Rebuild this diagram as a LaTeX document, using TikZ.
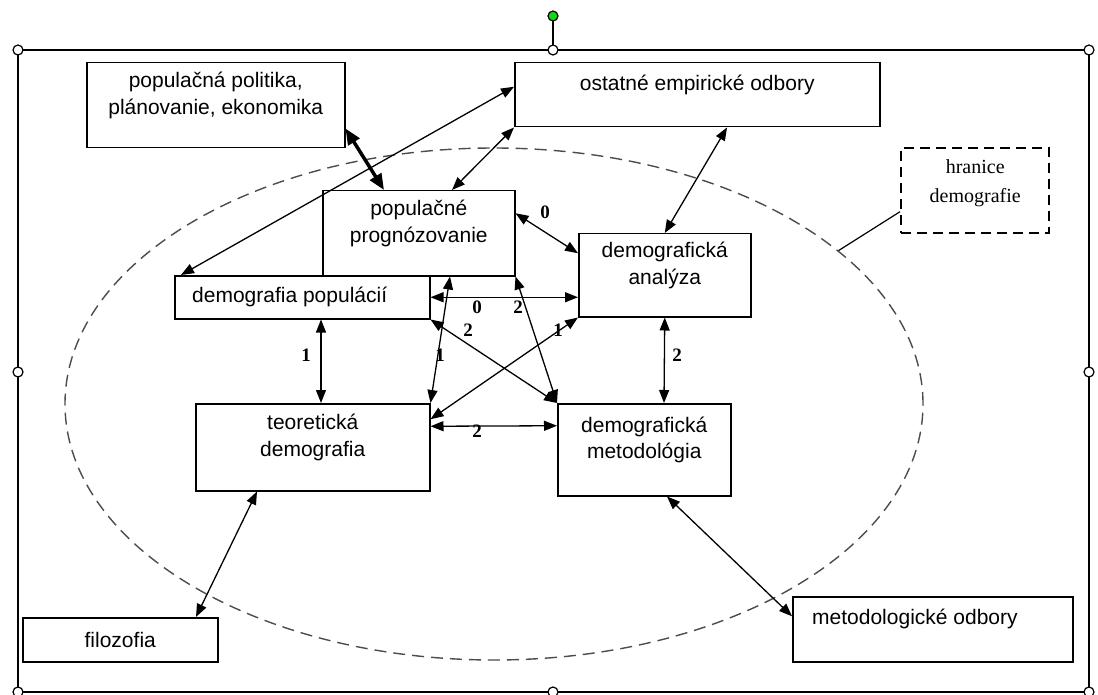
\documentclass[tikz,border=0pt]{standalone}
\usepackage{fontspec}
\setmainfont{Liberation Sans}
\newfontfamily\timesfont{Liberation Serif}
\usetikzlibrary{arrows.meta,shapes.geometric}
\definecolor{handlegreen}{RGB}{20,215,20}
\tikzstyle{box}=[draw, line width=1.5pt, anchor=north west, inner sep=0pt]
\tikzstyle{txt}=[inner sep=0pt, align=center, font=\fontsize{21}{26.5}\selectfont]
\tikzstyle{up}=[yshift=10pt]
\tikzstyle{link}=[line width=1.3pt, {Triangle[length=13pt,width=10pt]}-{Triangle[length=13pt,width=10pt]}]
\tikzstyle{num}=[inner sep=0pt, font=\fontsize{19}{19}\timesfont\bfseries]
\tikzstyle{handle}=[draw, fill=white, line width=1.2pt]

\begin{document}
\begin{tikzpicture}[x=1pt, y=-1pt]
\useasboundingbox (0,0) rectangle (1098,695);
% Frame with handles
    \draw[line width=1.3pt] (18,50) rectangle (1089,692);
    \draw[line width=1.2pt] (553,21) -- (553,45);
    \draw[handle, fill=handlegreen] (553,16) circle(5);
    \draw[handle] (18,50) circle(5);
    \draw[handle] (553,50) circle(5);
    \draw[handle] (1089,50) circle(5);
    \draw[handle] (18,372) circle(5);
    \draw[handle] (1089,372) circle(5);
    \draw[handle] (18,692) circle(5);
    \draw[handle] (553,692) circle(5);
    \draw[handle] (1089,692) circle(5);
% Boundary of demography
    \node[draw=black!70, ellipse, dashed, dash pattern=on 12pt off 7pt, line width=1.4pt,
          minimum width=858pt, minimum height=512pt, inner sep=0pt] (obor) at (494,404) {};
    \node[box, dash pattern=on 10pt off 6pt, line width=2.4pt, minimum width=148pt, minimum height=85pt,
          label={[txt, yshift=7pt, font=\fontsize{20}{29}\timesfont]center:{hranice\\demografie}}] (hranice) at (900,147) {};
    \draw[line width=1.2pt] ([yshift=-21pt]hranice.west) -- (obor.24);
% Boxes
    \node[box, minimum width=258pt, minimum height=85pt,
          label={[txt, up]center:{populačná politika,\\plánovanie, ekonomika}}] (politika) at (86,62) {};
    \node[box, minimum width=365pt, minimum height=64pt,
          label={[txt, up]center:ostatné empirické odbory}] (ostatne) at (514,62) {};
    \node[box, minimum width=192pt, minimum height=85pt,
          label={[txt, up]center:{populačné\\prognózovanie}}] (prognoza) at (322,190) {};
    \node[box, minimum width=255pt, minimum height=43pt,
          label={[txt, anchor=west, xshift=18pt]west:demografia populácií}] (dempop) at (174,275) {};
    \node[box, minimum width=172pt, minimum height=83pt,
          label={[txt, up]center:{demografická\\analýza}}] (analyza) at (578,233) {};
    \node[box, minimum width=234pt, minimum height=87pt,
          label={[txt, up]center:{teoretická\\demografia}}] (teoria) at (195,403) {};
    \node[box, minimum width=173pt, minimum height=92pt,
          label={[txt, up]center:{demografická\\metodológia}}] (metodologia) at (557,403) {};
    \node[box, minimum width=195pt, minimum height=44pt,
          label={[txt]center:filozofia}] (filozofia) at (22,617) {};
    \node[box, minimum width=280pt, minimum height=65pt,
          label={[txt, up, anchor=west, xshift=20pt]west:metodologické odbory}] (metodiky) at (792,596) {};
% Links
    \draw[link] ([yshift=8pt]ostatne.west) -- ([xshift=7pt]dempop.north west);
    \draw[link, line width=3.5pt, {Triangle[length=16pt,width=13pt]}-{Triangle[length=16pt,width=13pt]}]
        ([yshift=20pt]politika.south east) -- ([xshift=62pt]prognoza.north west);
    \draw[link] (ostatne.south west) -- ([xshift=130pt]prognoza.north west);
    \draw[link] ([xshift=213pt]ostatne.south west) -- (analyza.north);
    \draw[link] ([yshift=20pt]prognoza.east) -- ([yshift=22pt]analyza.west);
    \draw[link] (dempop.east) -- (dempop.east -| analyza.west);
    \draw[link] (prognoza.south east) -- (metodologia.north west);
    \draw[link] (dempop.south east) -- (metodologia.north west);
    \draw[link] ([xshift=128pt]prognoza.south west) -- (teoria.north east);
    \draw[link] (analyza.south west) -- ([yshift=28pt]teoria.east);
    \draw[link] ([yshift=21pt]teoria.east) -- ([yshift=24pt]metodologia.west);
    \draw[link] ([xshift=147pt]dempop.south west) -- ([xshift=126pt]teoria.north west);
    \draw[link] (analyza.south) -- ([xshift=107pt]metodologia.north west);
    \draw[link] ([xshift=62pt]teoria.south west) -- ([xshift=174pt]filozofia.north west);
    \draw[link] ([xshift=110pt]metodologia.south west) -- ([yshift=13pt]metodiky.west);
% Weights
    \node[num] (w1) at (545,212) {0};
    \node[num] (w2) at (477,307) {0};
    \node[num] (w3) at (518,307) {2};
    \node[num] (w4) at (468,330) {2};
    \node[num] (w5) at (440,355) {1};
    \node[num] (w6) at (558,330) {1};
    \node[num] (w7) at (477,431) {2};
    \node[num] (w8) at (306,355) {1};
    \node[num] (w9) at (677,355) {2};
\end{tikzpicture}
\end{document}
